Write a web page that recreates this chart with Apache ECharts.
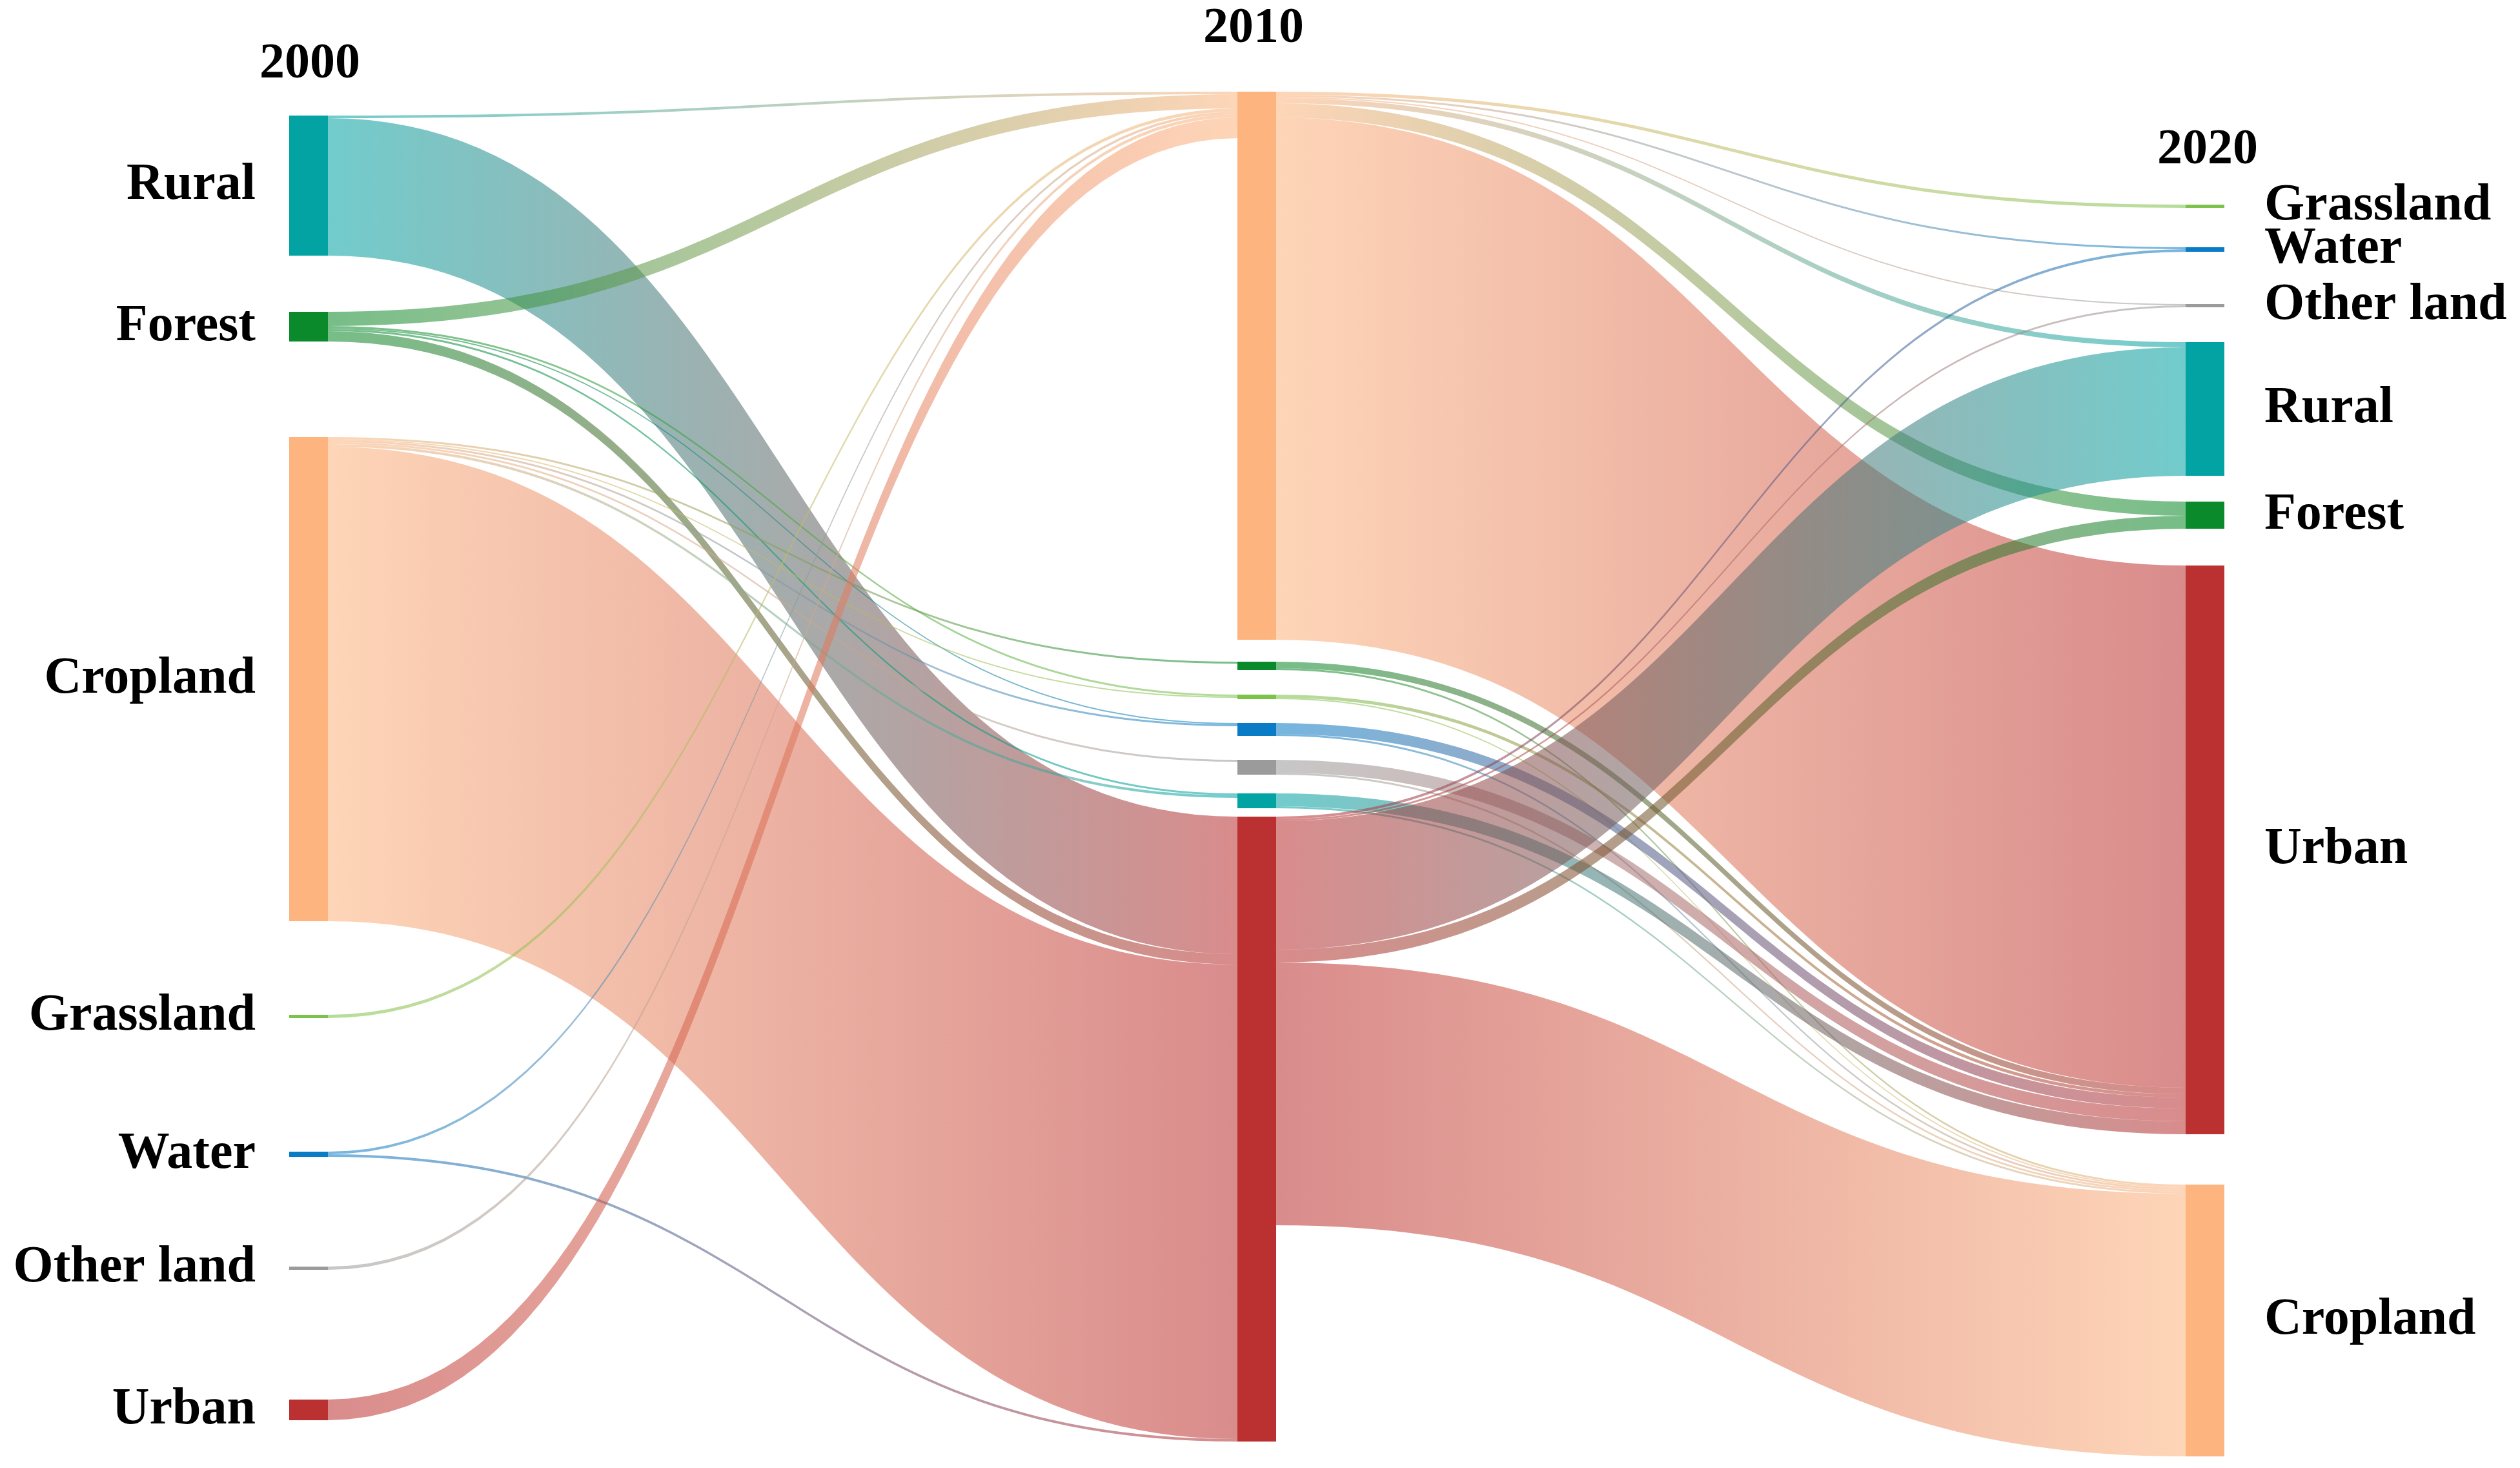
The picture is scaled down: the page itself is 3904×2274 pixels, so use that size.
<!DOCTYPE html>
<html>
<head>
<meta charset="utf-8">
<title>Land use transfer 2000-2010-2020</title>
<script src="https://cdn.jsdelivr.net/npm/echarts@6/dist/echarts.min.js"></script>
<style>
  html, body { margin: 0; padding: 0; background: #fff; }
  #main { width: 3904px; height: 2274px; }
</style>
</head>
<body>
<div id="main"></div>
<script>
const years = ['2000', '2010', '2020'];

// node order in each column, top to bottom
const order2000 = ['Rural', 'Forest', 'Cropland', 'Grassland', 'Water', 'Other land', 'Urban'];
const order2010 = ['Cropland', 'Forest', 'Grassland', 'Water', 'Other land', 'Rural', 'Urban'];
const order2020 = ['Grassland', 'Water', 'Other land', 'Rural', 'Forest', 'Urban', 'Cropland'];

// transfers 2000 -> 2010  [from, to, value]
const flows2000to2010 = [
  ['Rural', 'Cropland', 4], ['Rural', 'Urban', 213],
  ['Forest', 'Cropland', 22], ['Forest', 'Grassland', 3], ['Forest', 'Water', 2], ['Forest', 'Rural', 3], ['Forest', 'Urban', 16],
  ['Cropland', 'Forest', 3], ['Cropland', 'Grassland', 2], ['Cropland', 'Water', 3], ['Cropland', 'Other land', 3], ['Cropland', 'Rural', 4], ['Cropland', 'Urban', 735],
  ['Grassland', 'Cropland', 5],
  ['Water', 'Cropland', 4], ['Water', 'Urban', 4],
  ['Other land', 'Cropland', 5],
  ['Urban', 'Cropland', 32]
];

// transfers 2010 -> 2020
const flows2010to2020 = [
  ['Cropland', 'Grassland', 5], ['Cropland', 'Water', 3], ['Cropland', 'Other land', 2], ['Cropland', 'Rural', 8], ['Cropland', 'Forest', 22], ['Cropland', 'Urban', 809],
  ['Forest', 'Urban', 10], ['Forest', 'Cropland', 3],
  ['Grassland', 'Urban', 5], ['Grassland', 'Cropland', 2],
  ['Water', 'Urban', 17], ['Water', 'Cropland', 3],
  ['Other land', 'Urban', 20], ['Other land', 'Cropland', 3],
  ['Rural', 'Urban', 20], ['Rural', 'Cropland', 3],
  ['Urban', 'Water', 4], ['Urban', 'Other land', 3], ['Urban', 'Rural', 199], ['Urban', 'Forest', 20], ['Urban', 'Cropland', 407]
];

const colors = {
  'Rural': '#03a3a3',
  'Forest': '#0b8a2b',
  'Cropland': '#fdb47f',
  'Grassland': '#7dc24b',
  'Water': '#0a7cc6',
  'Other land': '#9b9b9b',
  'Urban': '#bb3131'
};

// layout: top edge of every node in page pixels (same order as the columns above)
const nodeTop = [
  [179, 483, 677, 1572, 1784, 1962, 2168],
  [142, 1025, 1076, 1120, 1177, 1229, 1265],
  [317, 383, 471, 530, 777, 876, 1835]
];

const TOP = 100;
const GAP = 10;
const orders = [order2000, order2010, order2020];

// links
let links = [];
flows2000to2010.forEach(f => links.push({source: f[0] + '-' + years[0], target: f[1] + '-' + years[1], value: f[2]}));
flows2010to2020.forEach(f => links.push({source: f[0] + '-' + years[1], target: f[1] + '-' + years[2], value: f[2]}));

// node value = max(in, out), as echarts does; used to get 1 value = 1px
let inSum = {}, outSum = {};
links.forEach(l => {
  outSum[l.source] = (outSum[l.source] || 0) + l.value;
  inSum[l.target] = (inSum[l.target] || 0) + l.value;
});
let maxCol = 0;
orders.forEach((ord, d) => {
  let s = 0;
  ord.forEach(n => {
    const id = n + '-' + years[d];
    s += Math.max(inSum[id] || 0, outSum[id] || 0);
  });
  maxCol = Math.max(maxCol, s);
});
const H = maxCol + 6 * GAP;

let nodes = [];
orders.forEach((ord, d) => {
  ord.forEach((n, i) => {
    nodes.push({
      name: n + '-' + years[d],
      depth: d,
      localY: (nodeTop[d][i] - TOP) / H,
      itemStyle: {color: colors[n]},
      label: d === 0 ? {position: 'left', distance: 52}
        : d === 2 ? {position: 'right', distance: 62}
        : {show: false}
    });
  });
});

const yearFont = {fontFamily: 'Liberation Serif', fontWeight: 'bold', fontSize: 78, fill: '#000', align: 'center', verticalAlign: 'middle'};

let option = {
  backgroundColor: '#fff',
  animation: false,
  graphic: [
    {type: 'text', x: 480, y: 100, style: Object.assign({text: years[0]}, yearFont)},
    {type: 'text', x: 1942, y: 45, style: Object.assign({text: years[1]}, yearFont)},
    {type: 'text', x: 3420, y: 233, style: Object.assign({text: years[2]}, yearFont)}
  ],
  series: [{
    type: 'sankey',
    left: 448,
    top: TOP,
    width: 2998,
    height: H,
    nodeWidth: 60,
    nodeGap: GAP,
    layoutIterations: 0,
    draggable: false,
    emphasis: {disabled: true},
    itemStyle: {borderWidth: 0},
    label: {
      show: true,
      color: '#000',
      fontFamily: 'Liberation Serif',
      fontWeight: 'bold',
      fontSize: 80,
      formatter: p => p.name.split('-')[0]
    },
    lineStyle: {
      color: 'gradient',
      opacity: 0.56,
      curveness: 0.5
    },
    data: nodes,
    links: links
  }]
};

const chart = echarts.init(document.getElementById('main'));
chart.setOption(option);
</script>
</body>
</html>
